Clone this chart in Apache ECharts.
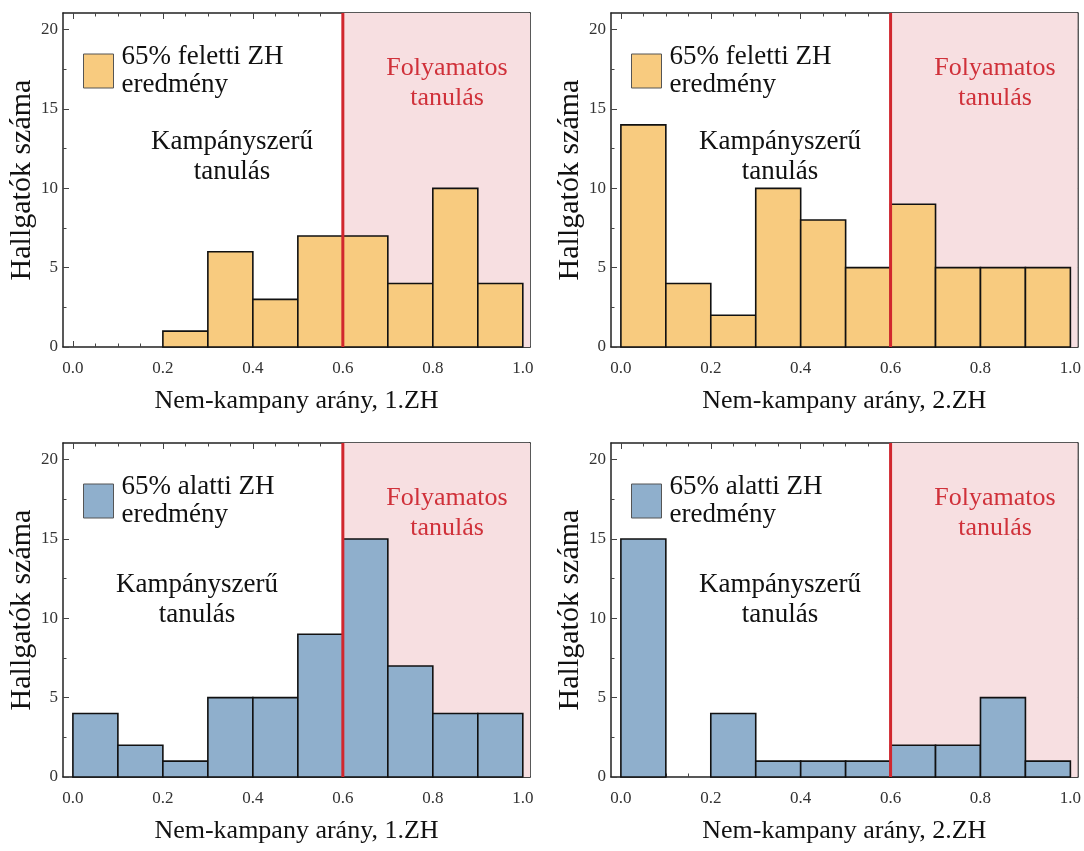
<!DOCTYPE html>
<html>
<head>
<meta charset="utf-8">
<script src="https://cdn.jsdelivr.net/npm/echarts@6/dist/echarts.min.js"></script>
<style>
  html, body { margin: 0; padding: 0; background: #fff; }
  #chart { width: 1084px; height: 851px; }
</style>
</head>
<body>
<div id="chart"></div>
<script>
// histogram bins (Nem-kampany arány)
var binEdges = [0, 0.1, 0.2, 0.3, 0.4, 0.5, 0.6, 0.7, 0.8, 0.9, 1.0];
var countsAbove1 = [0, 0, 1, 6, 3, 7, 7, 4, 10, 4];
var countsAbove2 = [14, 4, 2, 10, 8, 5, 9, 5, 5, 5];
var countsBelow1 = [4, 2, 1, 5, 5, 9, 15, 7, 4, 4];
var countsBelow2 = [15, 0, 4, 1, 1, 1, 2, 2, 5, 1];
var threshold = 0.6;

var xTicks = [0, 0.2, 0.4, 0.6, 0.8, 1.0];
var xMinorTicks = [0, 0.05, 0.1, 0.15, 0.2, 0.25, 0.3, 0.35, 0.4, 0.45, 0.5, 0.55, 0.6, 0.65, 0.7, 0.75, 0.8, 0.85, 0.9, 0.95, 1.0];
var yTicks = [0, 5, 10, 15, 20];
var yMinorTicks = [0, 2.5, 5, 7.5, 10, 12.5, 15, 17.5, 20];

var legendAbove = '65% feletti ZH\neredmény';
var legendBelow = '65% alatti ZH\neredmény';
var xNames = ['Nem-kampany arány, 1.ZH', 'Nem-kampany arány, 2.ZH', 'Nem-kampany arány, 1.ZH', 'Nem-kampany arány, 2.ZH'];
var yName = 'Hallgatók száma';
var campaignText = 'Kampányszerű\ntanulás';
var continuousText = 'Folyamatos\ntanulás';

var panels = [
  { counts: countsAbove1, name: legendAbove, color: '#f8cb7f', left: 63, top: 13, campDy: 0 },
  { counts: countsAbove2, name: legendAbove, color: '#f8cb7f', left: 611, top: 13, campDy: 0 },
  { counts: countsBelow1, name: legendBelow, color: '#8fafcc', left: 63, top: 443, campDy: 13 },
  { counts: countsBelow2, name: legendBelow, color: '#8fafcc', left: 611, top: 443, campDy: 13 }
];
var campX = [169, 169, 134, 169];

var FONT = '"Liberation Serif", "DejaVu Serif", serif';
var X_MIN = -0.022, X_MAX = 1.016, Y_MAX = 21.05;
var gw = 467, gh = 334;

var frameLine = { color: '#222', width: 1.5 };
var tickLine = { color: '#444', width: 1 };

var grids = [], xAxes = [], yAxes = [], series = [], legends = [], graphics = [];

panels.forEach(function (p, gi) {
  grids.push({ left: p.left, top: p.top, width: gw, height: gh });

  ['bottom', 'top'].forEach(function (pos) {
    xAxes.push({
      gridIndex: gi, type: 'value', min: X_MIN, max: X_MAX, position: pos,
      axisLine: { show: true, onZero: false, lineStyle: frameLine },
      axisTick: { show: true, inside: true, length: 6, customValues: xTicks, lineStyle: tickLine },
      axisLabel: pos === 'bottom' ? {
        show: true, customValues: xTicks, margin: 13,
        formatter: function (v) { return v.toFixed(1); },
        fontFamily: FONT, fontSize: 17, color: '#333'
      } : { show: false },
      splitLine: { show: false },
      name: pos === 'bottom' ? xNames[gi] : '',
      nameLocation: 'middle', nameGap: 41,
      nameTextStyle: { fontFamily: FONT, fontSize: 26, color: '#111' }
    });
    xAxes.push({
      gridIndex: gi, type: 'value', min: X_MIN, max: X_MAX, position: pos,
      axisLine: { show: false, onZero: false },
      axisTick: { show: true, inside: true, length: 3.5, customValues: xMinorTicks, lineStyle: tickLine },
      axisLabel: { show: false },
      splitLine: { show: false }
    });
  });

  ['left', 'right'].forEach(function (pos) {
    yAxes.push({
      gridIndex: gi, type: 'value', min: 0, max: Y_MAX, position: pos,
      axisLine: { show: true, onZero: false, lineStyle: frameLine },
      axisTick: { show: true, inside: true, length: 6, customValues: yTicks, lineStyle: tickLine },
      axisLabel: pos === 'left' ? {
        show: true, customValues: yTicks, margin: 5,
        fontFamily: FONT, fontSize: 17, color: '#333'
      } : { show: false },
      splitLine: { show: false },
      name: pos === 'left' ? yName : '',
      nameLocation: 'middle', nameGap: 25,
      nameTextStyle: { fontFamily: FONT, fontSize: 30, color: '#111' }
    });
    yAxes.push({
      gridIndex: gi, type: 'value', min: 0, max: Y_MAX, position: pos,
      axisLine: { show: false, onZero: false },
      axisTick: { show: true, inside: true, length: 3.5, customValues: yMinorTicks, lineStyle: tickLine },
      axisLabel: { show: false },
      splitLine: { show: false }
    });
  });

  var xi = gi * 4, yi = gi * 4;

  // pink region right of the threshold
  series.push({
    type: 'custom', xAxisIndex: xi, yAxisIndex: yi, silent: true, z: 1,
    data: [[threshold]],
    renderItem: function (params, api) {
      var cs = params.coordSys;
      var pt = api.coord([api.value(0), 0]);
      return {
        type: 'rect',
        shape: { x: pt[0], y: cs.y, width: cs.x + cs.width - pt[0], height: cs.height },
        style: { fill: '#f7dfe1' }
      };
    }
  });

  // histogram bars
  var barData = p.counts.map(function (c, i) { return [binEdges[i], binEdges[i + 1], c]; });
  series.push({
    type: 'custom', name: p.name, xAxisIndex: xi, yAxisIndex: yi, z: 2,
    itemStyle: { color: p.color, borderColor: '#333', borderWidth: 1 },
    encode: { x: [0, 1], y: 2 },
    data: barData,
    renderItem: (function (col) {
      return function (params, api) {
        if (!api.value(2)) return null;
        var a = api.coord([api.value(0), 0]);
        var b = api.coord([api.value(1), api.value(2)]);
        return {
          type: 'rect',
          shape: { x: a[0], y: b[1], width: b[0] - a[0], height: a[1] - b[1] },
          style: { fill: col, stroke: '#111', lineWidth: 1.6 }
        };
      };
    })(p.color)
  });

  // red threshold line
  series.push({
    type: 'custom', xAxisIndex: xi, yAxisIndex: yi, silent: true, z: 3,
    data: [[threshold]],
    renderItem: function (params, api) {
      var cs = params.coordSys;
      var pt = api.coord([api.value(0), 0]);
      return {
        type: 'line',
        shape: { x1: pt[0], y1: cs.y, x2: pt[0], y2: cs.y + cs.height },
        style: { stroke: '#d1272e', lineWidth: 3 }
      };
    }
  });

  legends.push({
    left: p.left + 20, top: p.top + 30, padding: 0,
    data: [p.name], icon: 'rect', itemWidth: 30, itemHeight: 34, itemGap: 0,
    selectedMode: false,
    itemStyle: { borderColor: '#555', borderWidth: 1 },
    textStyle: { fontFamily: FONT, fontSize: 27, lineHeight: 28, color: '#111', padding: [0, 0, 0, 3] }
  });

  graphics.push({
    type: 'text', z: 10,
    style: {
      text: campaignText, x: p.left + campX[gi], y: p.top + 114 + p.campDy,
      align: 'center', verticalAlign: 'top',
      font: '27px ' + FONT, lineHeight: 30, fill: '#111'
    }
  });
  graphics.push({
    type: 'text', z: 10,
    style: {
      text: continuousText, x: p.left + 384, y: p.top + 40,
      align: 'center', verticalAlign: 'top',
      font: '26px ' + FONT, lineHeight: 30, fill: '#d0313a'
    }
  });
});

var chart = echarts.init(document.getElementById('chart'));
chart.setOption({
  animation: false,
  grid: grids,
  xAxis: xAxes,
  yAxis: yAxes,
  legend: legends,
  graphic: graphics,
  series: series
});
</script>
</body>
</html>
